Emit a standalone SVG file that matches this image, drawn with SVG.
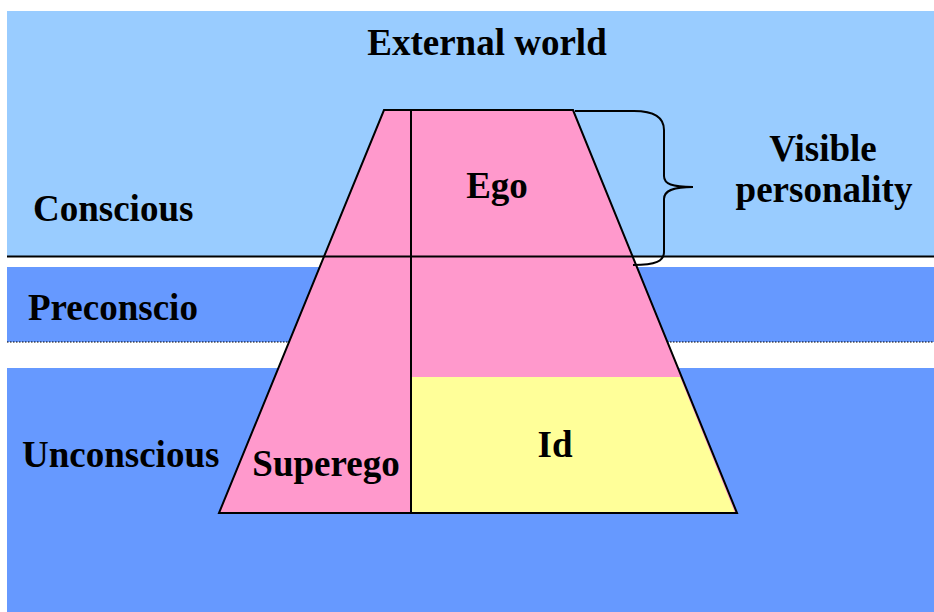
<svg xmlns="http://www.w3.org/2000/svg" width="934" height="612" viewBox="0 0 934 612">
<style>
.t{font-family:"Liberation Serif","Times New Roman",serif;font-weight:bold;font-size:37px;fill:#000}
.ln{stroke:#000;stroke-width:2;fill:none}
</style>
<rect x="0" y="0" width="934" height="612" fill="#fff"/>
<g id="bands">
<rect id="conscious-band" x="7" y="11" width="927" height="245" fill="#99CCFF"/>
<rect id="preconscious-band" x="7" y="267" width="927" height="75" fill="#6699FF"/>
<rect id="unconscious-band" x="7" y="368" width="927" height="244" fill="#6699FF"/>
<line x1="7" y1="342" x2="934" y2="342" stroke="#000" stroke-width="1.2" stroke-dasharray="1.5,1.5"/>
</g>
<g id="trapezoid">
<polygon id="pink" points="384,110 573,110 737,513 219,513" fill="#FF99CC"/>
<polygon id="id-region" points="411,377 680,377 735,513 411,513" fill="#FFFF99"/>
<polygon points="384,110 573,110 737,513 219,513" class="ln"/>
<line x1="411" y1="110" x2="411" y2="513" class="ln"/>
</g>
<g id="connectors">
<line x1="7" y1="256.5" x2="934" y2="256.5" stroke="#000" stroke-width="2"/>
<path id="brace" class="ln" d="M575,111 L634,111 C655,111 664,118 664,130 L664,176 C664,184 672,187 693,187 C672,187 664,191 664,199 L664,252 C664,261 656,265 633,265"/>
</g>
<g id="labels">
<text class="t" x="487" y="55" text-anchor="middle">External world</text>
<text class="t" x="33" y="221">Conscious</text>
<text class="t" x="28" y="320">Preconscio</text>
<text class="t" x="22" y="467">Unconscious</text>
<text class="t" x="497" y="198" text-anchor="middle">Ego</text>
<text class="t" x="326" y="476" text-anchor="middle">Superego</text>
<text class="t" x="555" y="457" text-anchor="middle">Id</text>
<text class="t" x="823" y="161" text-anchor="middle">Visible</text>
<text class="t" x="824" y="202" text-anchor="middle">personality</text>
</g>
</svg>
